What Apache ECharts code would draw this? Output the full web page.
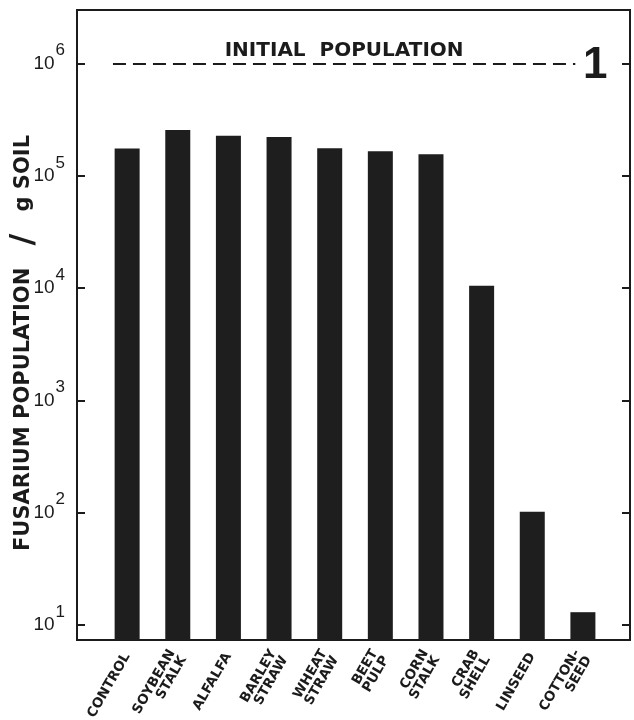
<!DOCTYPE html>
<html>
<head>
<meta charset="utf-8">
<script src="https://cdn.jsdelivr.net/npm/echarts@6/dist/echarts.min.js"></script>
<style>
html,body{margin:0;padding:0;background:#fff;}
#chart{width:634px;height:720px;}
</style>
</head>
<body>
<div id="chart"></div>
<script>
// ---- data ----
const categories = ['CONTROL', 'SOYBEAN\nSTALK', 'ALFALFA', 'BARLEY\nSTRAW', 'WHEAT\nSTRAW',
  'BEET\nPULP', 'CORN\nSTALK', 'CRAB\nSHELL', 'LINSEED', 'COTTON-\nSEED'];
const population = [1.75e5, 2.56e5, 2.28e5, 2.22e5, 1.76e5, 1.66e5, 1.56e5, 1.05e4, 102, 13];
const yTickValues = [10, 100, 1000, 10000, 100000, 1000000];
const initialPopulation = 1e6;
const initialLineSpan = [-0.28, 8.85];   // x extent of dashed reference line (category units)
const yRange = [7.35, 3.0e6];
const xRange = [-0.99, 9.93];

const chart = echarts.init(document.getElementById('chart'));
const FONT = '"Liberation Sans", "DejaVu Sans", sans-serif';
const DJ = '"DejaVu Sans", "Liberation Sans", sans-serif';
const INK = '#1b1b1b';

const yLabelRich = {
  b: { fontSize: 19, fontFamily: FONT, color: INK },
  e: { fontSize: 17, fontFamily: FONT, color: INK, padding: [0, 0, 26, 1] }
};
function yFmt(v) {
  const e = Math.round(Math.log10(v));
  return '{b|10}{e|' + e + '}';
}
function tickStyle() {
  return { show: true, inside: true, length: 8, customValues: yTickValues,
    lineStyle: { color: INK, width: 2 } };
}

const option = {
  backgroundColor: '#fff',
  animation: false,
  grid: {
    left: 77, right: 4, top: 10, bottom: 80,
    show: true, borderColor: INK, borderWidth: 2,
    containLabel: false, outerBoundsMode: 'none'
  },
  xAxis: {
    type: 'value', min: xRange[0], max: xRange[1],
    axisLine: { show: false, onZero: false }, axisTick: { show: false }, splitLine: { show: false },
    axisLabel: {
      customValues: categories.map((c, i) => i),
      formatter: (v) => categories[Math.round(v)],
      rotate: 60, margin: 14,
      fontFamily: DJ, fontWeight: 'bold', fontSize: 13.5, lineHeight: 13, color: INK
    }
  },
  yAxis: [
    {
      type: 'log', logBase: 10, min: yRange[0], max: yRange[1], position: 'left',
      axisLine: { show: false, onZero: false }, splitLine: { show: false },
      axisTick: tickStyle(),
      axisLabel: { customValues: yTickValues, formatter: yFmt, rich: yLabelRich, margin: 12 }
    },
    {
      type: 'log', logBase: 10, min: yRange[0], max: yRange[1], position: 'right',
      axisLine: { show: false, onZero: false }, splitLine: { show: false },
      axisTick: tickStyle(),
      axisLabel: { show: false }
    }
  ],
  series: [{
    type: 'bar',
    barWidth: 25,
    clip: true,
    itemStyle: { color: '#1e1e1e' },
    data: population.map((v, i) => [i, v]),
    markLine: {
      symbol: 'none', silent: true,
      lineStyle: { type: [13, 7], color: INK, width: 2 },
      label: {
        show: true, position: 'insideMiddleTop', distance: 3,
        formatter: 'INITIAL  POPULATION',
        fontFamily: DJ, fontWeight: 'bold', fontSize: 20, color: INK
      },
      data: [[
        { coord: [initialLineSpan[0], initialPopulation] },
        { coord: [initialLineSpan[1], initialPopulation] }
      ]]
    }
  }],
  graphic: [
    {
      type: 'text', x: 24, y: 343, rotation: Math.PI / 2,
      style: {
        text: '{t|FUSARIUM POPULATION}{s|  /  }{t|g SOIL}',
        align: 'center', verticalAlign: 'middle',
        rich: {
          t: { fontFamily: DJ, fontWeight: 'bold', fontSize: 21, fill: INK, color: INK },
          s: { fontFamily: DJ, fontWeight: 'bold', fontSize: 32, fill: INK, color: INK }
        }
      }
    },
    {
      type: 'text', x: 583, y: 44,
      style: { text: '1', fontFamily: FONT, fontWeight: 'bold', fontSize: 44, fill: INK }
    }
  ]
};
chart.setOption(option);
</script>
</body>
</html>
